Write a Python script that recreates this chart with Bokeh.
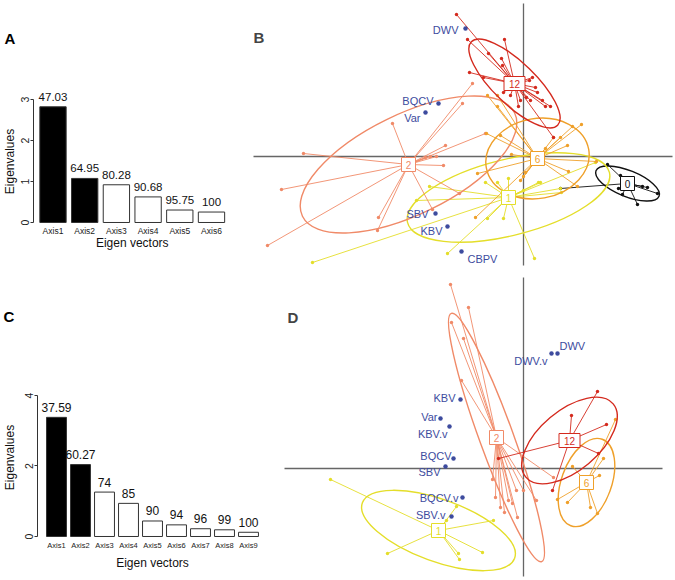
import math
from bokeh.plotting import figure
from bokeh.layouts import row, column
from bokeh.models import Range1d, FixedTicker, Label
from bokeh.embed import file_html
from bokeh.resources import INLINE
from bokeh.core.properties import value

FONT = "Liberation Sans"

# ---------------- Panel A: eigenvalues (6 axes) ----------------
a_axes = ["Axis1", "Axis2", "Axis3", "Axis4", "Axis5", "Axis6"]
a_eig = [2.822, 1.075, 0.920, 0.624, 0.304, 0.255]
a_cum = ["47.03", "64.95", "80.28", "90.68", "95.75", "100"]
a_yticks = [0, 1, 2, 3]

# ---------------- Panel C: eigenvalues (9 axes) ----------------
c_axes = ["Axis1", "Axis2", "Axis3", "Axis4", "Axis5", "Axis6", "Axis7", "Axis8", "Axis9"]
c_eig = [3.38, 2.04, 1.26, 0.94, 0.44, 0.33, 0.22, 0.19, 0.12]
c_cum = ["37.59", "60.27", "74", "85", "90", "94", "96", "99", "100"]
c_yticks = [0, 2, 4]

kept_axes = 2

# ---------------- Panel B: class scores ----------------
b_classes = ["0", "1", "2", "6", "12"]
b_cx = [104, -15, -115, 14, -9]
b_cy = [-27, -41, -8, -2, 73]
b_ell_a = [34, 104, 118, 52, 60]
b_ell_b = [13, 38, 50, 40, 21]
b_ell_ang = [-22, 14, 26, 10, -44]

b_x_0 = [84, 97, 95, 99, 114, 119, 124, 134, 37]
b_y_0 = [-8, -19, -32, -38, -48, -30, -31, -37, -32]
b_x_1 = [-211, -76, 11, -20, -36, -94, -107, 72, 37, 15, -26, -15, 17, 38, -38, 0]
b_y_1 = [-106, -97, -102, -62, -62, -30, -44, -6, -32, -26, -26, -22, -26, -36, -26, -34]
b_x_2 = [-220, -242, -256, -131, -145, -146, -91, -80, -51, -61, -38, -78, -64, -98, -93, -87]
b_y_2 = [3, -33, -89, 33, -61, -74, -53, -9, 73, 53, 23, 11, -37, -1, 0, 0]
b_x_6 = [58, 49, 44, 22, 30, -23, -37, -12, 73, 45, 54, 2, -3, 0, -48, -46, -26, -36, -26, 37]
b_y_6 = [32, 30, 11, 8, 19, 21, 23, 2, -5, -15, -30, -16, -24, -20, -61, -17, 61, 61, 50, 19]
b_x_12 = [-67, -56, -35, -22, -19, -54, -40, -21, -20, -13, -3, -5, 3, 7, 12, 9, 19, 22, 27, 30, 6, 14]
b_y_12 = [142, 117, 103, 98, 117, 84, 79, 91, 64, 61, 56, 50, 59, 56, 69, 79, 56, 50, 50, 19, 76, 64]

b_vars = ["DWV", "BQCV", "Var", "SBV", "KBV", "CBPV"]
b_vx = [-58, -85, -98, -88, -76, -62]
b_vy = [128, 53, 44, -57, -70, -95]

# ---------------- Panel D: class scores ----------------
d_classes = ["1", "2", "6", "12"]
d_cx = [-85, -27, 63, 46]
d_cy = [-62, 31, -14, 28]
d_ell_a = [81, 132, 46, 57]
d_ell_b = [31, 17, 25, 30]
d_ell_ang = [-20, -70, 70, 40]

d_x_1 = [-193, -136, -67, -77, -30, -65, -64, -41]
d_y_1 = [-11, -85, -38, -52, -52, -85, -91, -84]
d_x_2 = [-73, -55, -72, -60, -62, -31, -23, -15, -11, -6, -7, 0, 13, 30, -28, -19]
d_y_2 = [184, 161, 146, 130, 88, -11, -39, -32, -35, -49, -22, -22, -32, -9, -29, -44]
d_x_6 = [92, 80, 49, 76, 44, 34, 67, 74]
d_y_6 = [49, 10, 2, -7, -34, -31, -39, -45]
d_x_12 = [74, 48, 83, 75, 29, -25]
d_y_12 = [77, 53, 44, 15, -22, 10]

d_vars = ["DWV.v", "DWV", "KBV", "Var", "KBV.v", "BQCV", "SBV", "BQCV.v", "SBV.v"]
d_vx = [28, 34, -63, -83, -74, -70, -78, -61, -72]
d_vy = [115, 115, 69, 50, 42, 10, 2, -29, -48]

# ---------------- styles ----------------
class_colors = {"0": "#111111", "1": "#e4de2a", "2": "#f08a68", "6": "#efa02a", "12": "#d42a1e"}
var_color = "#3d4b9e"
axis_grey = "#666666"

b_lab_align = ["right", "right", "right", "right", "right", "left"]
b_lab_dx = [-7, -5, -5, -7, -5, 6]
b_lab_dy = [1, -3, 5, 0, 4, 7]
d_lab_align = ["right", "left", "right", "right", "right", "right", "right", "right", "right"]
d_lab_dx = [-4, 2, -5, -3, -2, -2, -5, -4, -6]
d_lab_dy = [7, -8, -2, -2, 7, -3, 5, 0, -2]


def strip_panel(width, y0, y1, letter, letter_pos, ylabel_pos):
    """Narrow margin strip holding the panel letter and the rotated y-axis title."""
    p = figure(width=width, height=y1 - y0, x_range=Range1d(0, width), y_range=Range1d(y1, y0), title=None,
               toolbar_location=None, output_backend="svg", x_axis_location=None, y_axis_location=None,
               min_border=0)
    p.outline_line_color = None
    p.grid.visible = False
    p.text(x=[letter_pos[0]], y=[letter_pos[1]], text=[letter], text_align="left", text_baseline="alphabetic",
           text_font=value(FONT), text_font_style="bold", text_font_size="15px", text_color="#000000")
    p.text(x=[ylabel_pos[0]], y=[ylabel_pos[1]], text=["Eigenvalues"], angle=math.pi / 2,
           text_align="center", text_baseline="middle",
           text_font=value(FONT), text_font_size="12px", text_color="#111111")
    return p


def bar_panel(width, height, axes, eig, cum, xr, yr, yticks, tick_fs, bar_fs, left, tick_dy, title_dy):
    p = figure(width=width, height=height, x_range=Range1d(*xr), y_range=Range1d(*yr), title=None,
               toolbar_location=None, output_backend="svg", x_axis_location=None,
               min_border_left=left, min_border_right=0, min_border_top=0, min_border_bottom=0)
    p.outline_line_color = None
    p.grid.visible = False
    xs = list(range(1, len(axes) + 1))
    fills = ["black" if i < kept_axes else "white" for i in range(len(axes))]
    p.vbar(x=xs, top=eig, bottom=0, width=0.83, fill_color=fills, line_color="#333333", line_width=1)
    p.text(x=xs, y=eig, text=cum, text_align="center", text_baseline="middle", y_offset=-10,
           text_font=value(FONT), text_font_size=bar_fs, text_color="#111111")
    # category labels under the bars
    p.text(x=xs, y=[0] * len(xs), text=axes, text_align="center", text_baseline="middle", y_offset=tick_dy,
           text_font=value(FONT), text_font_size=tick_fs, text_color="#222222")
    p.text(x=[(1 + len(xs)) / 2], y=[0], text=["Eigen vectors"], text_align="center", text_baseline="middle",
           y_offset=title_dy, text_font=value(FONT), text_font_size="12px", text_color="#111111")
    # y axis
    ya = p.yaxis[0]
    ya.ticker = FixedTicker(ticks=yticks)
    ya.bounds = (yticks[0], yticks[-1])
    ya.major_label_orientation = "vertical"
    ya.major_label_text_font = FONT
    ya.major_label_text_font_size = "10.5px"
    ya.major_label_text_color = "#222222"
    ya.major_label_standoff = 1
    ya.major_tick_out = 3
    ya.major_tick_in = 0
    ya.minor_tick_line_color = None
    ya.axis_line_color = "#333333"
    ya.major_tick_line_color = "#333333"
    return p


def scatter_panel(width, height, xr, yr, classes, cx, cy, ea, eb, eang, pts,
                  vnames, vx, vy, valign, vdx, vdy, hline, vline, letter, letter_xy):
    p = figure(width=width, height=height, x_range=Range1d(*xr), y_range=Range1d(*yr), title=None,
               toolbar_location=None, output_backend="svg", x_axis_location=None, y_axis_location=None,
               min_border=0)
    p.outline_line_color = None
    p.grid.visible = False
    # axes through origin
    p.segment(x0=[hline[0]], y0=[0], x1=[hline[1]], y1=[0], line_color=axis_grey, line_width=1.3)
    p.segment(x0=[0], y0=[vline[0]], x1=[0], y1=[vline[1]], line_color=axis_grey, line_width=1.3)
    for i, c in enumerate(classes):
        col = class_colors[c]
        xs, ys = pts[c]
        n = len(xs)
        p.segment(x0=[cx[i]] * n, y0=[cy[i]] * n, x1=xs, y1=ys, line_color=col, line_width=0.9)
        p.scatter(x=xs, y=ys, size=3.4, fill_color=col, line_color=None)
        p.ellipse(x=[cx[i]], y=[cy[i]], width=[2 * ea[i]], height=[2 * eb[i]],
                  angle=[math.radians(eang[i])], fill_color=None, line_color=col, line_width=1.4)
    for i, c in enumerate(classes):
        col = class_colors[c]
        w = 14 + 7 * (len(c) - 1)
        p.rect(x=[cx[i]], y=[cy[i]], width=w, height=14, width_units="screen", height_units="screen",
               fill_color="white", line_color=col, line_width=1)
        p.text(x=[cx[i]], y=[cy[i]], text=[c], text_align="center", text_baseline="middle",
               text_font=value(FONT), text_font_size="10px", text_color=col)
    p.scatter(x=vx, y=vy, size=4.5, fill_color=var_color, line_color=None)
    p.text(x=vx, y=vy, text=vnames, text_align=valign, text_baseline="middle",
           x_offset=vdx, y_offset=vdy, text_font=value(FONT), text_font_size="11px", text_color=var_color)
    p.add_layout(Label(x=letter_xy[0], y=letter_xy[1], x_units="screen", y_units="screen", text=letter,
                       text_font=FONT, text_font_style="bold", text_font_size="15px",
                       text_baseline="alphabetic"))
    return p


sa = strip_panel(18, 0, 270, "A", (4, 38), (9, 161))
pa = bar_panel(222, 270, a_axes, a_eig, a_cum, (0.385, 6.915), (-1.171, 5.415), a_yticks,
               "8.5px", "11.5px", 15, 9, 21)
sc = strip_panel(18, 270, 578, "C", (3, 316), (9, 457))
pc = bar_panel(252, 308, c_axes, c_eig, c_cum, (0.2083, 9.917), (-1.1915, 7.546), c_yticks,
               "7.5px", "12px", 19, 9, 27)

b_pts = {"0": (b_x_0, b_y_0), "1": (b_x_1, b_y_1), "2": (b_x_2, b_y_2),
         "6": (b_x_6, b_y_6), "12": (b_x_12, b_y_12)}
d_pts = {"1": (d_x_1, d_y_1), "2": (d_x_2, d_y_2), "6": (d_x_6, d_y_6), "12": (d_x_12, d_y_12)}

pb = scatter_panel(434, 270, (-283, 151), (-114, 156), b_classes, b_cx, b_cy, b_ell_a, b_ell_b, b_ell_ang,
                   b_pts, b_vars, b_vx, b_vy, b_lab_align, b_lab_dx, b_lab_dy,
                   (-270, 149), (153, -109), "B", (13, 233))
pd = scatter_panel(404, 308, (-253, 151), (-110, 198), d_classes, d_cx, d_cy, d_ell_a, d_ell_b, d_ell_ang,
                   d_pts, d_vars, d_vx, d_vy, d_lab_align, d_lab_dx, d_lab_dy,
                   (-239, 139), (191, -108), "D", (17, 261))

layout = column(row(sa, pa, pb), row(sc, pc, pd))
open("out.html", "w").write(file_html(layout, INLINE))
